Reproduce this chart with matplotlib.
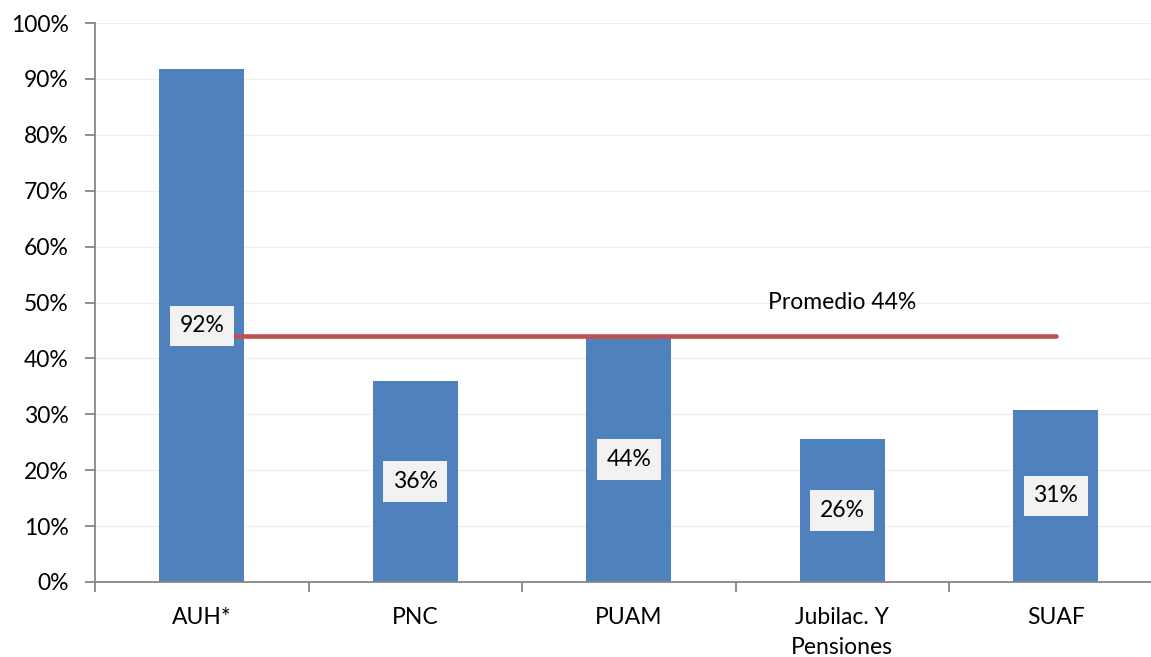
import matplotlib.pyplot as plt
import matplotlib.ticker as ticker

# data
categories = ['AUH*', 'PNC', 'PUAM', 'Jubilac. Y\nPensiones', 'SUAF']
values = [91.7, 36.0, 43.8, 25.6, 30.8]
value_labels = ['92%', '36%', '44%', '26%', '31%']
promedio = 44
promedio_label = 'Promedio 44%'

plt.rcParams['font.family'] = ['Lato', 'DejaVu Sans']

fig = plt.figure(figsize=(11.51, 6.57), dpi=100)
# right edge of the plot area runs slightly past the picture, as in the reference
ax = fig.add_axes([95/1151, 75/657, (1162.5-95)/1151, (582-23)/657])

x = list(range(len(categories)))
ax.bar(x, values, width=0.4, color='#4F81BD', zorder=2)

# labels sit in the middle of each bar, on a light grey box
for xi, v, lab in zip(x, values, value_labels):
    ax.text(xi, v/2, lab, ha='center', va='center', fontsize=16.5, color='black', zorder=4,
            bbox=dict(boxstyle='square,pad=0.42', fc='#F2F2F2', ec='none'))

# average line
ax.plot([x[0], x[-1]], [promedio, promedio], color='#C0504D', lw=3.3, solid_capstyle='round', zorder=3)
ax.text(3, 50, promedio_label, ha='center', va='center', fontsize=16.5, color='black')

ax.set_xlim(-0.5, len(categories)-0.5)
ax.set_ylim(0, 100)
ax.yaxis.set_major_locator(ticker.MultipleLocator(10))
ax.yaxis.set_major_formatter(ticker.FuncFormatter(lambda v, p: '%d%%' % v))
ax.set_xticks(x)
ax.set_xticklabels(categories, fontsize=16.5, linespacing=1.5)
ax.set_xticks([i + 0.5 for i in range(-1, len(categories))], minor=True)
ax.tick_params(axis='x', which='major', length=0, pad=18)
ax.tick_params(axis='x', which='minor', length=7, color='#868686', width=1.3, direction='out')
ax.tick_params(axis='y', labelsize=16.5, length=7, color='#868686', width=1.3, pad=12)

ax.grid(axis='y', color='#EFEFEF', lw=1, zorder=0)
ax.spines['top'].set_visible(False)
ax.spines['right'].set_visible(False)
ax.spines['left'].set_color('#868686')
ax.spines['bottom'].set_color('#868686')
ax.spines['left'].set_linewidth(1.3)
ax.spines['bottom'].set_linewidth(1.3)

plt.savefig('out.png', dpi=100)
